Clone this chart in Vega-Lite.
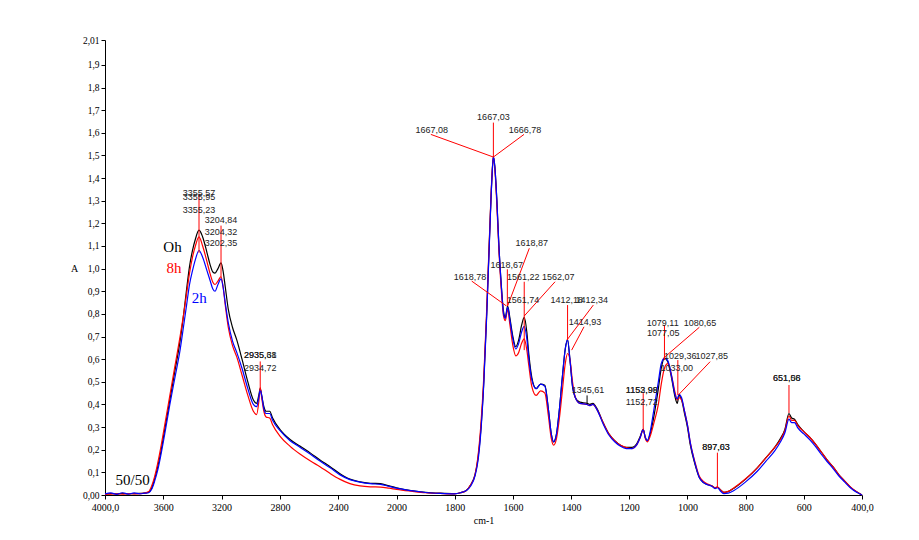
{
  "$schema": "https://vega.github.io/schema/vega-lite/v6.json",
  "width": 757,
  "height": 455,
  "autosize": {"type": "none"},
  "padding": {"left": 105, "top": 40, "right": 57, "bottom": 45},
  "background": "white",
  "config": {
    "view": {"stroke": null},
    "axis": {"domainColor": "#000", "tickColor": "#000", "labelColor": "#000", "titleColor": "#000", "labelFont": "Liberation Serif", "labelFontSize": 10, "titleFont": "Liberation Serif", "titleFontWeight": "normal", "titleFontSize": 10, "grid": false, "tickSize": 4, "labelOverlap": false, "labelFlush": false}
  },
  "datasets": {
    "spectra": [
      {"s":"0h","w":4000,"a":0.004},{"s":"0h","w":3960,"a":0.006},{"s":"0h","w":3920,"a":0.005},{"s":"0h","w":3880,"a":0.007},{"s":"0h","w":3840,"a":0.005},{"s":"0h","w":3800,"a":0.006},{"s":"0h","w":3760,"a":0.007},{"s":"0h","w":3730,"a":0.008},{"s":"0h","w":3700,"a":0.012},{"s":"0h","w":3680,"a":0.03},{"s":"0h","w":3660,"a":0.07},{"s":"0h","w":3640,"a":0.12},{"s":"0h","w":3620,"a":0.18},{"s":"0h","w":3590,"a":0.29},{"s":"0h","w":3555,"a":0.42},{"s":"0h","w":3520,"a":0.55},{"s":"0h","w":3485,"a":0.68},{"s":"0h","w":3460,"a":0.8},{"s":"0h","w":3440,"a":0.91},{"s":"0h","w":3420,"a":1.01},{"s":"0h","w":3400,"a":1.08},{"s":"0h","w":3380,"a":1.13},{"s":"0h","w":3355,"a":1.17},{"s":"0h","w":3330,"a":1.14},{"s":"0h","w":3300,"a":1.07},{"s":"0h","w":3280,"a":1.02},{"s":"0h","w":3260,"a":0.985},{"s":"0h","w":3245,"a":0.98},{"s":"0h","w":3225,"a":1.0},{"s":"0h","w":3204,"a":1.025},{"s":"0h","w":3190,"a":0.99},{"s":"0h","w":3175,"a":0.92},{"s":"0h","w":3154,"a":0.82},{"s":"0h","w":3125,"a":0.74},{"s":"0h","w":3096,"a":0.685},{"s":"0h","w":3060,"a":0.6},{"s":"0h","w":3020,"a":0.5},{"s":"0h","w":2982,"a":0.42},{"s":"0h","w":2960,"a":0.405},{"s":"0h","w":2945,"a":0.44},{"s":"0h","w":2935,"a":0.47},{"s":"0h","w":2925,"a":0.44},{"s":"0h","w":2910,"a":0.39},{"s":"0h","w":2895,"a":0.37},{"s":"0h","w":2870,"a":0.37},{"s":"0h","w":2850,"a":0.34},{"s":"0h","w":2800,"a":0.29},{"s":"0h","w":2730,"a":0.245},{"s":"0h","w":2660,"a":0.215},{"s":"0h","w":2590,"a":0.185},{"s":"0h","w":2525,"a":0.155},{"s":"0h","w":2455,"a":0.125},{"s":"0h","w":2390,"a":0.095},{"s":"0h","w":2320,"a":0.07},{"s":"0h","w":2250,"a":0.058},{"s":"0h","w":2180,"a":0.052},{"s":"0h","w":2110,"a":0.05},{"s":"0h","w":2050,"a":0.04},{"s":"0h","w":2000,"a":0.032},{"s":"0h","w":1950,"a":0.02},{"s":"0h","w":1900,"a":0.012},{"s":"0h","w":1850,"a":0.008},{"s":"0h","w":1800,"a":0.006},{"s":"0h","w":1780,"a":0.01},{"s":"0h","w":1760,"a":0.02},{"s":"0h","w":1745,"a":0.045},{"s":"0h","w":1730,"a":0.09},{"s":"0h","w":1720,"a":0.16},{"s":"0h","w":1710,"a":0.29},{"s":"0h","w":1700,"a":0.5},{"s":"0h","w":1690,"a":0.8},{"s":"0h","w":1680,"a":1.15},{"s":"0h","w":1672,"a":1.4},{"s":"0h","w":1667,"a":1.495},{"s":"0h","w":1662,"a":1.45},{"s":"0h","w":1655,"a":1.3},{"s":"0h","w":1648,"a":1.1},{"s":"0h","w":1640,"a":0.93},{"s":"0h","w":1632,"a":0.81},{"s":"0h","w":1626,"a":0.785},{"s":"0h","w":1618,"a":0.835},{"s":"0h","w":1610,"a":0.78},{"s":"0h","w":1600,"a":0.7},{"s":"0h","w":1590,"a":0.655},{"s":"0h","w":1580,"a":0.685},{"s":"0h","w":1570,"a":0.75},{"s":"0h","w":1561,"a":0.785},{"s":"0h","w":1552,"a":0.72},{"s":"0h","w":1545,"a":0.62},{"s":"0h","w":1535,"a":0.52},{"s":"0h","w":1520,"a":0.47},{"s":"0h","w":1505,"a":0.49},{"s":"0h","w":1490,"a":0.485},{"s":"0h","w":1478,"a":0.38},{"s":"0h","w":1468,"a":0.27},{"s":"0h","w":1460,"a":0.235},{"s":"0h","w":1450,"a":0.27},{"s":"0h","w":1440,"a":0.38},{"s":"0h","w":1430,"a":0.52},{"s":"0h","w":1420,"a":0.645},{"s":"0h","w":1412,"a":0.685},{"s":"0h","w":1404,"a":0.6},{"s":"0h","w":1395,"a":0.48},{"s":"0h","w":1385,"a":0.43},{"s":"0h","w":1370,"a":0.41},{"s":"0h","w":1345,"a":0.405},{"s":"0h","w":1335,"a":0.4},{"s":"0h","w":1325,"a":0.405},{"s":"0h","w":1310,"a":0.38},{"s":"0h","w":1290,"a":0.32},{"s":"0h","w":1270,"a":0.27},{"s":"0h","w":1250,"a":0.24},{"s":"0h","w":1230,"a":0.22},{"s":"0h","w":1210,"a":0.21},{"s":"0h","w":1190,"a":0.21},{"s":"0h","w":1175,"a":0.225},{"s":"0h","w":1162,"a":0.26},{"s":"0h","w":1152,"a":0.29},{"s":"0h","w":1145,"a":0.255},{"s":"0h","w":1138,"a":0.24},{"s":"0h","w":1128,"a":0.27},{"s":"0h","w":1115,"a":0.35},{"s":"0h","w":1100,"a":0.47},{"s":"0h","w":1090,"a":0.56},{"s":"0h","w":1079,"a":0.605},{"s":"0h","w":1068,"a":0.59},{"s":"0h","w":1055,"a":0.52},{"s":"0h","w":1042,"a":0.43},{"s":"0h","w":1035,"a":0.405},{"s":"0h","w":1029,"a":0.44},{"s":"0h","w":1020,"a":0.42},{"s":"0h","w":1010,"a":0.36},{"s":"0h","w":1000,"a":0.3},{"s":"0h","w":990,"a":0.22},{"s":"0h","w":975,"a":0.14},{"s":"0h","w":960,"a":0.08},{"s":"0h","w":945,"a":0.055},{"s":"0h","w":930,"a":0.045},{"s":"0h","w":915,"a":0.04},{"s":"0h","w":905,"a":0.03},{"s":"0h","w":897,"a":0.035},{"s":"0h","w":888,"a":0.025},{"s":"0h","w":875,"a":0.012},{"s":"0h","w":860,"a":0.015},{"s":"0h","w":840,"a":0.03},{"s":"0h","w":800,"a":0.07},{"s":"0h","w":760,"a":0.12},{"s":"0h","w":730,"a":0.165},{"s":"0h","w":700,"a":0.21},{"s":"0h","w":680,"a":0.25},{"s":"0h","w":665,"a":0.29},{"s":"0h","w":651,"a":0.36},{"s":"0h","w":642,"a":0.34},{"s":"0h","w":632,"a":0.335},{"s":"0h","w":620,"a":0.31},{"s":"0h","w":600,"a":0.28},{"s":"0h","w":580,"a":0.255},{"s":"0h","w":560,"a":0.225},{"s":"0h","w":540,"a":0.19},{"s":"0h","w":520,"a":0.155},{"s":"0h","w":500,"a":0.125},{"s":"0h","w":480,"a":0.09},{"s":"0h","w":460,"a":0.062},{"s":"0h","w":440,"a":0.035},{"s":"0h","w":420,"a":0.015},{"s":"0h","w":400,"a":0.0},

      {"s":"8h","w":4000,"a":0.003},{"s":"8h","w":3960,"a":0.004},{"s":"8h","w":3920,"a":0.005},{"s":"8h","w":3880,"a":0.004},{"s":"8h","w":3840,"a":0.006},{"s":"8h","w":3800,"a":0.005},{"s":"8h","w":3760,"a":0.006},{"s":"8h","w":3730,"a":0.008},{"s":"8h","w":3700,"a":0.015},{"s":"8h","w":3680,"a":0.04},{"s":"8h","w":3660,"a":0.08},{"s":"8h","w":3640,"a":0.135},{"s":"8h","w":3620,"a":0.2},{"s":"8h","w":3590,"a":0.31},{"s":"8h","w":3555,"a":0.44},{"s":"8h","w":3520,"a":0.57},{"s":"8h","w":3485,"a":0.7},{"s":"8h","w":3460,"a":0.8},{"s":"8h","w":3440,"a":0.89},{"s":"8h","w":3420,"a":0.98},{"s":"8h","w":3400,"a":1.05},{"s":"8h","w":3380,"a":1.1},{"s":"8h","w":3355,"a":1.14},{"s":"8h","w":3330,"a":1.1},{"s":"8h","w":3300,"a":1.03},{"s":"8h","w":3280,"a":0.98},{"s":"8h","w":3260,"a":0.94},{"s":"8h","w":3245,"a":0.93},{"s":"8h","w":3225,"a":0.945},{"s":"8h","w":3204,"a":0.965},{"s":"8h","w":3190,"a":0.92},{"s":"8h","w":3175,"a":0.84},{"s":"8h","w":3154,"a":0.74},{"s":"8h","w":3125,"a":0.66},{"s":"8h","w":3096,"a":0.61},{"s":"8h","w":3060,"a":0.53},{"s":"8h","w":3020,"a":0.44},{"s":"8h","w":2982,"a":0.37},{"s":"8h","w":2960,"a":0.355},{"s":"8h","w":2945,"a":0.41},{"s":"8h","w":2935,"a":0.475},{"s":"8h","w":2925,"a":0.43},{"s":"8h","w":2910,"a":0.37},{"s":"8h","w":2895,"a":0.345},{"s":"8h","w":2870,"a":0.34},{"s":"8h","w":2850,"a":0.31},{"s":"8h","w":2800,"a":0.26},{"s":"8h","w":2730,"a":0.215},{"s":"8h","w":2660,"a":0.18},{"s":"8h","w":2590,"a":0.15},{"s":"8h","w":2525,"a":0.125},{"s":"8h","w":2455,"a":0.095},{"s":"8h","w":2390,"a":0.07},{"s":"8h","w":2320,"a":0.05},{"s":"8h","w":2250,"a":0.04},{"s":"8h","w":2180,"a":0.036},{"s":"8h","w":2110,"a":0.035},{"s":"8h","w":2050,"a":0.03},{"s":"8h","w":2000,"a":0.025},{"s":"8h","w":1950,"a":0.017},{"s":"8h","w":1900,"a":0.01},{"s":"8h","w":1850,"a":0.007},{"s":"8h","w":1800,"a":0.005},{"s":"8h","w":1780,"a":0.01},{"s":"8h","w":1760,"a":0.02},{"s":"8h","w":1745,"a":0.045},{"s":"8h","w":1730,"a":0.09},{"s":"8h","w":1720,"a":0.17},{"s":"8h","w":1710,"a":0.31},{"s":"8h","w":1700,"a":0.52},{"s":"8h","w":1690,"a":0.82},{"s":"8h","w":1680,"a":1.16},{"s":"8h","w":1672,"a":1.41},{"s":"8h","w":1667,"a":1.495},{"s":"8h","w":1662,"a":1.44},{"s":"8h","w":1655,"a":1.28},{"s":"8h","w":1648,"a":1.08},{"s":"8h","w":1640,"a":0.91},{"s":"8h","w":1632,"a":0.79},{"s":"8h","w":1626,"a":0.77},{"s":"8h","w":1618,"a":0.82},{"s":"8h","w":1610,"a":0.75},{"s":"8h","w":1600,"a":0.66},{"s":"8h","w":1590,"a":0.615},{"s":"8h","w":1580,"a":0.63},{"s":"8h","w":1570,"a":0.67},{"s":"8h","w":1561,"a":0.69},{"s":"8h","w":1552,"a":0.64},{"s":"8h","w":1545,"a":0.57},{"s":"8h","w":1535,"a":0.48},{"s":"8h","w":1520,"a":0.44},{"s":"8h","w":1505,"a":0.46},{"s":"8h","w":1490,"a":0.45},{"s":"8h","w":1478,"a":0.35},{"s":"8h","w":1468,"a":0.25},{"s":"8h","w":1460,"a":0.22},{"s":"8h","w":1450,"a":0.25},{"s":"8h","w":1440,"a":0.34},{"s":"8h","w":1430,"a":0.46},{"s":"8h","w":1420,"a":0.58},{"s":"8h","w":1412,"a":0.625},{"s":"8h","w":1404,"a":0.6},{"s":"8h","w":1395,"a":0.5},{"s":"8h","w":1385,"a":0.43},{"s":"8h","w":1370,"a":0.405},{"s":"8h","w":1345,"a":0.4},{"s":"8h","w":1335,"a":0.395},{"s":"8h","w":1325,"a":0.4},{"s":"8h","w":1310,"a":0.375},{"s":"8h","w":1290,"a":0.32},{"s":"8h","w":1270,"a":0.27},{"s":"8h","w":1250,"a":0.24},{"s":"8h","w":1230,"a":0.22},{"s":"8h","w":1210,"a":0.21},{"s":"8h","w":1190,"a":0.205},{"s":"8h","w":1175,"a":0.22},{"s":"8h","w":1162,"a":0.255},{"s":"8h","w":1152,"a":0.29},{"s":"8h","w":1145,"a":0.25},{"s":"8h","w":1138,"a":0.235},{"s":"8h","w":1128,"a":0.26},{"s":"8h","w":1115,"a":0.32},{"s":"8h","w":1100,"a":0.4},{"s":"8h","w":1090,"a":0.49},{"s":"8h","w":1079,"a":0.56},{"s":"8h","w":1068,"a":0.58},{"s":"8h","w":1055,"a":0.53},{"s":"8h","w":1042,"a":0.45},{"s":"8h","w":1035,"a":0.42},{"s":"8h","w":1029,"a":0.43},{"s":"8h","w":1020,"a":0.42},{"s":"8h","w":1010,"a":0.37},{"s":"8h","w":1000,"a":0.31},{"s":"8h","w":990,"a":0.23},{"s":"8h","w":975,"a":0.15},{"s":"8h","w":960,"a":0.085},{"s":"8h","w":945,"a":0.06},{"s":"8h","w":930,"a":0.048},{"s":"8h","w":915,"a":0.04},{"s":"8h","w":905,"a":0.032},{"s":"8h","w":897,"a":0.036},{"s":"8h","w":888,"a":0.025},{"s":"8h","w":875,"a":0.012},{"s":"8h","w":860,"a":0.016},{"s":"8h","w":840,"a":0.032},{"s":"8h","w":800,"a":0.072},{"s":"8h","w":760,"a":0.12},{"s":"8h","w":730,"a":0.165},{"s":"8h","w":700,"a":0.21},{"s":"8h","w":680,"a":0.245},{"s":"8h","w":665,"a":0.285},{"s":"8h","w":651,"a":0.35},{"s":"8h","w":642,"a":0.33},{"s":"8h","w":632,"a":0.33},{"s":"8h","w":620,"a":0.305},{"s":"8h","w":600,"a":0.28},{"s":"8h","w":580,"a":0.255},{"s":"8h","w":560,"a":0.225},{"s":"8h","w":540,"a":0.19},{"s":"8h","w":520,"a":0.155},{"s":"8h","w":500,"a":0.125},{"s":"8h","w":480,"a":0.09},{"s":"8h","w":460,"a":0.062},{"s":"8h","w":440,"a":0.036},{"s":"8h","w":420,"a":0.016},{"s":"8h","w":400,"a":0.0},

      {"s":"2h","w":4000,"a":0.005},{"s":"2h","w":3960,"a":0.009},{"s":"2h","w":3920,"a":0.003},{"s":"2h","w":3880,"a":0.01},{"s":"2h","w":3840,"a":0.004},{"s":"2h","w":3800,"a":0.009},{"s":"2h","w":3760,"a":0.005},{"s":"2h","w":3730,"a":0.008},{"s":"2h","w":3700,"a":0.01},{"s":"2h","w":3680,"a":0.025},{"s":"2h","w":3660,"a":0.06},{"s":"2h","w":3640,"a":0.105},{"s":"2h","w":3620,"a":0.165},{"s":"2h","w":3590,"a":0.27},{"s":"2h","w":3555,"a":0.4},{"s":"2h","w":3520,"a":0.52},{"s":"2h","w":3485,"a":0.64},{"s":"2h","w":3460,"a":0.75},{"s":"2h","w":3440,"a":0.84},{"s":"2h","w":3420,"a":0.93},{"s":"2h","w":3400,"a":0.99},{"s":"2h","w":3380,"a":1.04},{"s":"2h","w":3355,"a":1.08},{"s":"2h","w":3330,"a":1.05},{"s":"2h","w":3300,"a":0.99},{"s":"2h","w":3280,"a":0.95},{"s":"2h","w":3260,"a":0.91},{"s":"2h","w":3245,"a":0.9},{"s":"2h","w":3225,"a":0.93},{"s":"2h","w":3204,"a":0.955},{"s":"2h","w":3190,"a":0.92},{"s":"2h","w":3175,"a":0.85},{"s":"2h","w":3154,"a":0.76},{"s":"2h","w":3125,"a":0.68},{"s":"2h","w":3096,"a":0.63},{"s":"2h","w":3060,"a":0.56},{"s":"2h","w":3020,"a":0.47},{"s":"2h","w":2982,"a":0.4},{"s":"2h","w":2960,"a":0.39},{"s":"2h","w":2945,"a":0.43},{"s":"2h","w":2935,"a":0.465},{"s":"2h","w":2925,"a":0.44},{"s":"2h","w":2910,"a":0.38},{"s":"2h","w":2895,"a":0.36},{"s":"2h","w":2870,"a":0.36},{"s":"2h","w":2850,"a":0.33},{"s":"2h","w":2800,"a":0.285},{"s":"2h","w":2730,"a":0.24},{"s":"2h","w":2660,"a":0.21},{"s":"2h","w":2590,"a":0.18},{"s":"2h","w":2525,"a":0.15},{"s":"2h","w":2455,"a":0.12},{"s":"2h","w":2390,"a":0.09},{"s":"2h","w":2320,"a":0.068},{"s":"2h","w":2250,"a":0.057},{"s":"2h","w":2180,"a":0.05},{"s":"2h","w":2110,"a":0.047},{"s":"2h","w":2050,"a":0.038},{"s":"2h","w":2000,"a":0.03},{"s":"2h","w":1950,"a":0.019},{"s":"2h","w":1900,"a":0.011},{"s":"2h","w":1850,"a":0.007},{"s":"2h","w":1800,"a":0.005},{"s":"2h","w":1780,"a":0.01},{"s":"2h","w":1760,"a":0.02},{"s":"2h","w":1745,"a":0.04},{"s":"2h","w":1730,"a":0.085},{"s":"2h","w":1720,"a":0.15},{"s":"2h","w":1710,"a":0.28},{"s":"2h","w":1700,"a":0.49},{"s":"2h","w":1690,"a":0.79},{"s":"2h","w":1680,"a":1.14},{"s":"2h","w":1672,"a":1.4},{"s":"2h","w":1667,"a":1.495},{"s":"2h","w":1662,"a":1.45},{"s":"2h","w":1655,"a":1.3},{"s":"2h","w":1648,"a":1.1},{"s":"2h","w":1640,"a":0.93},{"s":"2h","w":1632,"a":0.8},{"s":"2h","w":1626,"a":0.78},{"s":"2h","w":1618,"a":0.83},{"s":"2h","w":1610,"a":0.77},{"s":"2h","w":1600,"a":0.69},{"s":"2h","w":1590,"a":0.645},{"s":"2h","w":1580,"a":0.67},{"s":"2h","w":1570,"a":0.72},{"s":"2h","w":1561,"a":0.745},{"s":"2h","w":1552,"a":0.69},{"s":"2h","w":1545,"a":0.6},{"s":"2h","w":1535,"a":0.51},{"s":"2h","w":1520,"a":0.47},{"s":"2h","w":1505,"a":0.49},{"s":"2h","w":1490,"a":0.48},{"s":"2h","w":1478,"a":0.38},{"s":"2h","w":1468,"a":0.27},{"s":"2h","w":1460,"a":0.235},{"s":"2h","w":1450,"a":0.27},{"s":"2h","w":1440,"a":0.38},{"s":"2h","w":1430,"a":0.52},{"s":"2h","w":1420,"a":0.645},{"s":"2h","w":1412,"a":0.685},{"s":"2h","w":1404,"a":0.6},{"s":"2h","w":1395,"a":0.48},{"s":"2h","w":1385,"a":0.43},{"s":"2h","w":1370,"a":0.405},{"s":"2h","w":1345,"a":0.4},{"s":"2h","w":1335,"a":0.395},{"s":"2h","w":1325,"a":0.4},{"s":"2h","w":1310,"a":0.375},{"s":"2h","w":1290,"a":0.315},{"s":"2h","w":1270,"a":0.265},{"s":"2h","w":1250,"a":0.235},{"s":"2h","w":1230,"a":0.215},{"s":"2h","w":1210,"a":0.205},{"s":"2h","w":1190,"a":0.205},{"s":"2h","w":1175,"a":0.22},{"s":"2h","w":1162,"a":0.255},{"s":"2h","w":1152,"a":0.29},{"s":"2h","w":1145,"a":0.255},{"s":"2h","w":1138,"a":0.24},{"s":"2h","w":1128,"a":0.28},{"s":"2h","w":1115,"a":0.38},{"s":"2h","w":1100,"a":0.5},{"s":"2h","w":1090,"a":0.58},{"s":"2h","w":1079,"a":0.605},{"s":"2h","w":1068,"a":0.595},{"s":"2h","w":1055,"a":0.53},{"s":"2h","w":1042,"a":0.44},{"s":"2h","w":1035,"a":0.425},{"s":"2h","w":1029,"a":0.445},{"s":"2h","w":1020,"a":0.43},{"s":"2h","w":1010,"a":0.37},{"s":"2h","w":1000,"a":0.31},{"s":"2h","w":990,"a":0.23},{"s":"2h","w":975,"a":0.145},{"s":"2h","w":960,"a":0.08},{"s":"2h","w":945,"a":0.055},{"s":"2h","w":930,"a":0.045},{"s":"2h","w":915,"a":0.038},{"s":"2h","w":905,"a":0.028},{"s":"2h","w":897,"a":0.033},{"s":"2h","w":888,"a":0.02},{"s":"2h","w":875,"a":0.006},{"s":"2h","w":860,"a":0.008},{"s":"2h","w":840,"a":0.02},{"s":"2h","w":800,"a":0.058},{"s":"2h","w":760,"a":0.105},{"s":"2h","w":730,"a":0.15},{"s":"2h","w":700,"a":0.195},{"s":"2h","w":680,"a":0.235},{"s":"2h","w":665,"a":0.275},{"s":"2h","w":651,"a":0.335},{"s":"2h","w":642,"a":0.32},{"s":"2h","w":632,"a":0.32},{"s":"2h","w":620,"a":0.295},{"s":"2h","w":600,"a":0.27},{"s":"2h","w":580,"a":0.245},{"s":"2h","w":560,"a":0.215},{"s":"2h","w":540,"a":0.18},{"s":"2h","w":520,"a":0.148},{"s":"2h","w":500,"a":0.118},{"s":"2h","w":480,"a":0.085},{"s":"2h","w":460,"a":0.058},{"s":"2h","w":440,"a":0.032},{"s":"2h","w":420,"a":0.013},{"s":"2h","w":400,"a":0.0}
    ],
    "leaders": [
      {"w1":3355,"a1":1.33,"w2":3355,"a2":1.07},
      {"w1":3204,"a1":1.19,"w2":3204,"a2":0.965},
      {"w1":2935,"a1":0.59,"w2":2935,"a2":0.46},
      {"w1":1882,"a1":1.593,"w2":1667,"a2":1.493},
      {"w1":1667,"a1":1.645,"w2":1667,"a2":1.493},
      {"w1":1561.7,"a1":1.593,"w2":1667,"a2":1.493},
      {"w1":1543.5,"a1":1.09,"w2":1618,"a2":0.835},
      {"w1":1619,"a1":0.997,"w2":1619,"a2":0.835},
      {"w1":1741.5,"a1":0.945,"w2":1622,"a2":0.835},
      {"w1":1561,"a1":0.942,"w2":1561,"a2":0.64},
      {"w1":1455,"a1":0.942,"w2":1561.5,"a2":0.79},
      {"w1":1412,"a1":0.839,"w2":1412,"a2":0.685},
      {"w1":1323.5,"a1":0.839,"w2":1414,"a2":0.685},
      {"w1":1355.5,"a1":0.743,"w2":1398,"a2":0.64},
      {"w1":1152,"a1":0.45,"w2":1152,"a2":0.287},
      {"w1":1079,"a1":0.751,"w2":1079,"a2":0.596},
      {"w1":959,"a1":0.741,"w2":1083,"a2":0.604},
      {"w1":1033,"a1":0.596,"w2":1033,"a2":0.442},
      {"w1":922,"a1":0.589,"w2":1031,"a2":0.442},
      {"w1":897,"a1":0.187,"w2":897,"a2":0.031},
      {"w1":651,"a1":0.486,"w2":651,"a2":0.362}
    ],
    "blackLeaders": [
      {"w1":1345,"a1":0.44,"w2":1345,"a2":0.405}
    ],
    "peakLabels": [
      {"w":3355,"a":1.336,"t":"3355,57"},{"w":3355,"a":1.315,"t":"3355,95"},{"w":3355,"a":1.259,"t":"3355,23"},
      {"w":3204,"a":1.215,"t":"3204,84"},{"w":3204,"a":1.161,"t":"3204,32"},{"w":3204,"a":1.115,"t":"3202,35"},
      {"w":2935,"a":0.619,"t":"2935,68"},{"w":2935,"a":0.619,"t":"2935,31"},{"w":2935,"a":0.56,"t":"2934,72"},
      {"w":1879,"a":1.612,"t":"1667,08"},{"w":1667,"a":1.668,"t":"1667,03"},{"w":1558,"a":1.612,"t":"1666,78"},
      {"w":1535,"a":1.112,"t":"1618,87"},{"w":1621,"a":1.016,"t":"1618,67"},{"w":1747,"a":0.964,"t":"1618,78"},
      {"w":1564,"a":0.964,"t":"1561,22"},{"w":1444,"a":0.964,"t":"1562,07"},{"w":1565,"a":0.861,"t":"1561,74"},
      {"w":1415,"a":0.861,"t":"1412,18"},{"w":1329,"a":0.861,"t":"1412,34"},{"w":1352,"a":0.766,"t":"1414,93"},
      {"w":1342,"a":0.465,"t":"1345,61"},
      {"w":1157,"a":0.464,"t":"1152,98"},{"w":1157,"a":0.464,"t":"1153,99"},{"w":1157,"a":0.412,"t":"1152,72"},
      {"w":1085,"a":0.761,"t":"1079,11"},{"w":1083,"a":0.714,"t":"1077,05"},{"w":957,"a":0.761,"t":"1080,65"},
      {"w":1025,"a":0.614,"t":"1029,36"},{"w":916.5,"a":0.614,"t":"1027,85"},{"w":1037,"a":0.56,"t":"1033,00"},
      {"w":901.6,"a":0.211,"t":"897,63"},{"w":901.6,"a":0.211,"t":"897,03"},
      {"w":658.6,"a":0.515,"t":"651,56"},{"w":658.6,"a":0.515,"t":"651,08"}
    ],
    "seriesLabels": [
      {"s":"0h","t":"Oh","w":3537,"a":1.097},
      {"s":"8h","t":"8h","w":3527,"a":1.004},
      {"s":"2h","t":"2h","w":3353,"a":0.872}
    ],
    "sample": [
      {"t":"50/50","w":3810,"a":0.066}
    ]
  },
  "layer": [
    {
      "data": {"name": "spectra"},
      "transform": [{"filter": "datum.s === '0h'"}],
      "mark": {"type": "line", "color": "#000000", "strokeWidth": 1.2, "interpolate": "monotone"},
      "encoding": {
        "x": {"field": "w", "type": "quantitative", "scale": {"domain": [4000, 2000, 400], "range": [0, 291.5, 757], "nice": false, "zero": false},
          "axis": {"title": "cm-1", "values": [4000, 3600, 3200, 2800, 2400, 2000, 1800, 1600, 1400, 1200, 1000, 800, 600, 400], "tickCount": 40, "labelExpr": "datum.value == 4000 ? '4000,0' : (datum.value == 400 ? '400,0' : '' + datum.value)", "labelPadding": 3, "titlePadding": 3, "labelOverlap": false}},
        "y": {"field": "a", "type": "quantitative", "scale": {"domain": [0, 2.01], "nice": false, "zero": true},
          "axis": {"title": "A", "titleAngle": 0, "titleX": -31, "titleY": 228, "titleAlign": "center", "titleBaseline": "middle", "values": [0, 0.1, 0.2, 0.3, 0.4, 0.5, 0.6, 0.7, 0.8, 0.9, 1.0, 1.1, 1.2, 1.3, 1.4, 1.5, 1.6, 1.7, 1.8, 1.9, 2.01], "tickCount": 40, "labelExpr": "datum.value == 0 ? '0,00' : (datum.value == 2.01 ? '2,01' : replace(format(datum.value, '.1f'), '.', ','))", "labelPadding": 2, "tickSize": 4, "labelOverlap": false, "labelFontSize": 9.5}}
      }
    },
    {
      "data": {"name": "spectra"},
      "transform": [{"filter": "datum.s === '8h'"}],
      "mark": {"type": "line", "color": "#ff0000", "strokeWidth": 1.2, "interpolate": "monotone"},
      "encoding": {
        "x": {"field": "w", "type": "quantitative"},
        "y": {"field": "a", "type": "quantitative"}
      }
    },
    {
      "data": {"name": "spectra"},
      "transform": [{"filter": "datum.s === '2h'"}],
      "mark": {"type": "line", "color": "#0000ff", "strokeWidth": 1.2, "interpolate": "monotone"},
      "encoding": {
        "x": {"field": "w", "type": "quantitative"},
        "y": {"field": "a", "type": "quantitative"}
      }
    },
    {
      "data": {"name": "leaders"},
      "mark": {"type": "rule", "color": "#ff0000", "strokeWidth": 1},
      "encoding": {
        "x": {"field": "w1", "type": "quantitative"},
        "y": {"field": "a1", "type": "quantitative"},
        "x2": {"field": "w2"},
        "y2": {"field": "a2"}
      }
    },
    {
      "data": {"name": "blackLeaders"},
      "mark": {"type": "rule", "color": "#000000", "strokeWidth": 1},
      "encoding": {
        "x": {"field": "w1", "type": "quantitative"},
        "y": {"field": "a1", "type": "quantitative"},
        "x2": {"field": "w2"},
        "y2": {"field": "a2"}
      }
    },
    {
      "data": {"name": "peakLabels"},
      "mark": {"type": "text", "font": "Liberation Sans", "fontSize": 9, "color": "#222222", "align": "center", "baseline": "middle"},
      "encoding": {
        "x": {"field": "w", "type": "quantitative"},
        "y": {"field": "a", "type": "quantitative"},
        "text": {"field": "t"}
      }
    },
    {
      "data": {"name": "seriesLabels"},
      "mark": {"type": "text", "font": "Liberation Serif", "fontSize": 15, "align": "center", "baseline": "middle"},
      "encoding": {
        "x": {"field": "w", "type": "quantitative"},
        "y": {"field": "a", "type": "quantitative"},
        "text": {"field": "t"},
        "color": {"field": "s", "type": "nominal", "scale": {"domain": ["0h", "8h", "2h"], "range": ["#000000", "#ff0000", "#0000ff"]}, "legend": null}
      }
    },
    {
      "data": {"name": "sample"},
      "mark": {"type": "text", "font": "Liberation Serif", "fontSize": 15, "color": "#000000", "align": "center", "baseline": "middle"},
      "encoding": {
        "x": {"field": "w", "type": "quantitative"},
        "y": {"field": "a", "type": "quantitative"},
        "text": {"field": "t"}
      }
    }
  ]
}
